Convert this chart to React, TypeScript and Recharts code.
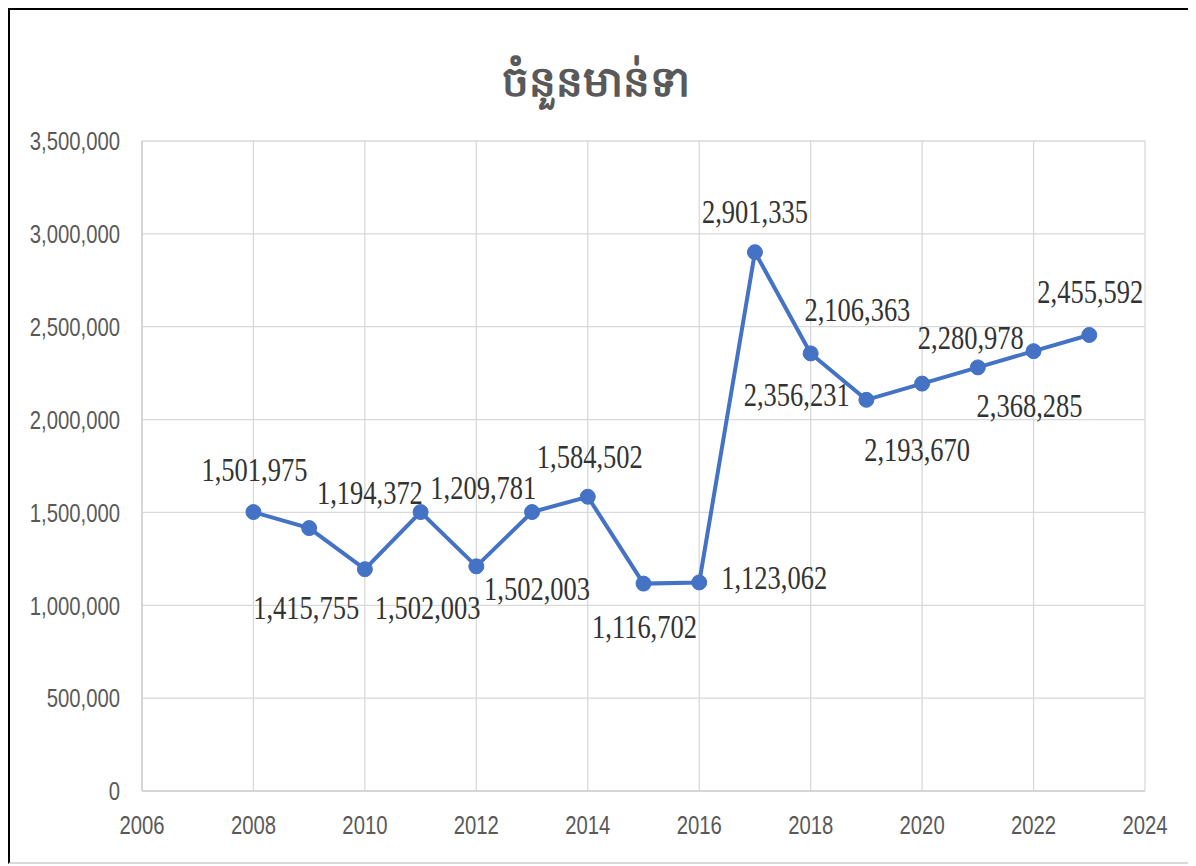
import React from 'react';
import { LineChart, Line, XAxis, YAxis, CartesianGrid, LabelList } from 'recharts';

const years = [2008, 2009, 2010, 2011, 2012, 2013, 2014, 2015, 2016, 2017, 2018, 2019, 2020, 2021, 2022, 2023];
const poultry = [
  1501975, 1415755, 1194372, 1502003, 1209781, 1502003, 1584502, 1116702,
  1123062, 2901335, 2356231, 2106363, 2193670, 2280978, 2368285, 2455592,
];
const xTicks = [2006, 2008, 2010, 2012, 2014, 2016, 2018, 2020, 2022, 2024];
const yTicks = [0, 500000, 1000000, 1500000, 2000000, 2500000, 3000000, 3500000];
const title = 'ចំនួនមាន់ទា';

// where each data label sits relative to its point (dx, dy), as in the original
const labelOffsets: [number, number][] = [
  [1, -42], [-3, 80], [5, -76], [7, 96], [7, -79], [5, 77], [2, -40], [1, 43],
  [75, -5], [0, -40], [-14, 41], [-9, -90], [-5, 66], [-7, -30], [-4, 55], [1, -43],
];

const data = years.map((year, i) => ({ year, value: poultry[i] }));

const fmt = (v: number) => v.toLocaleString('en-US');
const BLUE = '#4472C4';

// axis ticks: sans squeezed horizontally to look like the Calibri in the original
const AxisTick = (props: any) => {
  const { x, y, payload, textAnchor, vertical } = props;
  return (
    <g transform={`translate(${x},${y}) scale(0.78,1)`}>
      <text
        x={0}
        y={0}
        dy={vertical ? '0.355em' : '0.71em'}
        textAnchor={textAnchor}
        fill="#595959"
        fontSize={26}
        fontFamily="'Liberation Sans', Arial, sans-serif"
      >
        {vertical ? fmt(payload.value) : payload.value}
      </text>
    </g>
  );
};

const DataLabel = (props: any) => {
  const vb = props.viewBox || {};
  const x = props.x ?? vb.x;
  const y = props.y ?? vb.y;
  const [dx, dy] = labelOffsets[props.index] || [0, -40];
  return (
    <g transform={`translate(${x + dx},${y + dy}) scale(1,1.3)`}>
      <text
        x={0}
        y={0}
        textAnchor="middle"
        dominantBaseline="central"
        fill="#333"
        fontSize={26.5}
        fontFamily="'Liberation Serif', 'Times New Roman', serif"
      >
        {fmt(Number(props.value))}
      </text>
    </g>
  );
};

export default function App() {
  return (
    <div
      style={{
        position: 'relative',
        width: 1188,
        height: 852,
        borderLeft: '2px solid #000',
        borderTop: '2px solid #000',
        borderBottom: '2px solid #d9d9d9',
        background: '#fff',
        boxSizing: 'content-box',
      }}
    >
      <div
        style={{
          position: 'absolute',
          left: 0,
          top: 46,
          width: 1172,
          textAlign: 'center',
          fontSize: 42,
          fontWeight: 'bold',
          color: '#595959',
          fontFamily: "'Noto Sans', 'DejaVu Sans', sans-serif",
          lineHeight: '48px',
        }}
      >
        {title}
      </div>
      <LineChart width={1188} height={852} data={data} margin={{ top: 131, right: 53, bottom: 11, left: 0 }}>
        <CartesianGrid stroke="#d9d9d9" strokeWidth={1.3} />
        <XAxis
          dataKey="year"
          type="number"
          domain={[2006, 2024]}
          ticks={xTicks}
          tickLine={false}
          tickSize={0}
          tickMargin={25}
          height={60}
          axisLine={{ stroke: '#d0d0d0', strokeWidth: 1.5 }}
          tick={<AxisTick />}
        />
        <YAxis
          type="number"
          domain={[0, 3500000]}
          ticks={yTicks}
          tickFormatter={fmt}
          tickLine={false}
          tickSize={0}
          tickMargin={22}
          width={132}
          axisLine={{ stroke: '#d0d0d0', strokeWidth: 1.5 }}
          tick={<AxisTick vertical />}
        />
        <Line
          dataKey="value"
          stroke={BLUE}
          strokeWidth={4}
          dot={{ r: 7.5, fill: BLUE, stroke: BLUE, strokeWidth: 1 }}
          isAnimationActive={false}
        >
          <LabelList dataKey="value" content={DataLabel} />
        </Line>
      </LineChart>
    </div>
  );
}
